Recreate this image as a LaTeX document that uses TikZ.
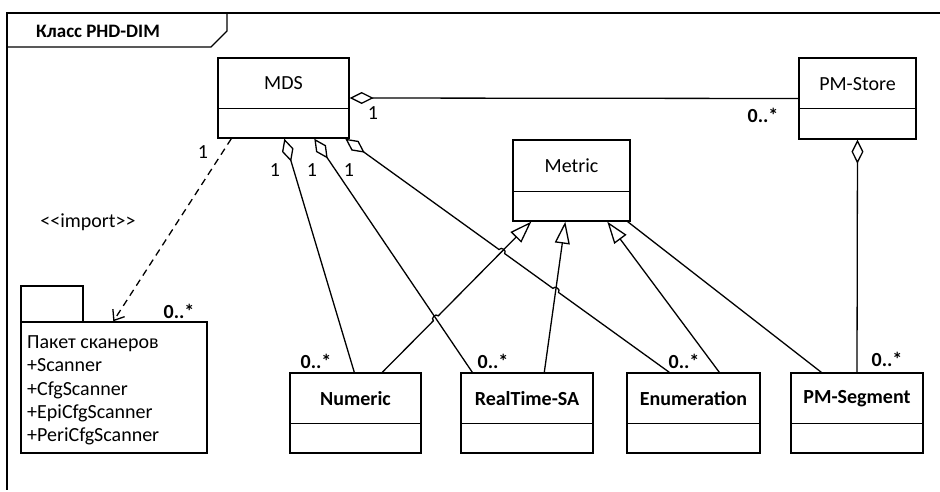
\documentclass[tikz,border=0pt]{standalone}
\usepackage{fontspec}
\setmainfont{Carlito}
\usetikzlibrary{arrows.meta,calc}
\begin{document}
\begin{tikzpicture}[x=1pt,y=-1pt,
  box/.style={draw,line width=1.4pt,inner sep=0pt},
  lbl/.style={font=\fontsize{20}{24}\selectfont, inner sep=0pt},
  blbl/.style={font=\fontsize{20}{24}\selectfont\bfseries, inner sep=0pt},
  conn/.style={line width=1.3pt},
  agg/.style={conn, {Diamond[open,length=24pt,width=12pt,line width=1.3pt]}-},
  gen/.style={conn, -{Triangle[open,length=22pt,width=15pt,line width=1.3pt]}},
  dep/.style={conn, dash pattern=on 7pt off 5pt, -{Straight Barb[length=9pt,width=14pt]}},
  divl/.style={line width=1.4pt},
  hop/.style={bend left=90, looseness=1.4},
]
\useasboundingbox (0,0) rectangle (940,492);
% frame
\draw[line width=1.6pt] (940,13) -- (7,13) -- (7,490);
\draw[line width=1.4pt] (7,47) -- (211,47) -- (227,31) -- (227,13);
\node[blbl, anchor=west, font=\fontsize{19}{23}\selectfont\bfseries] (title) at (36,31) {Класс PHD-DIM};

% classes
\node[box, minimum width=131pt, minimum height=80pt] (mds) at (283.5,98) {};
\draw[divl] ([yshift=-51pt]mds.north west) -- ([yshift=-51pt]mds.north east);
\node[lbl] (mdsn) at (283.5,83.5) {MDS};

\node[box, minimum width=117pt, minimum height=81pt] (pmstore) at (857.5,98.5) {};
\draw[divl] ([yshift=-51pt]pmstore.north west) -- ([yshift=-51pt]pmstore.north east);
\node[lbl] (pmstoren) at (857.5,84) {PM-Store};

\node[box, minimum width=117pt, minimum height=81pt] (metric) at (571.5,180.5) {};
\draw[divl] ([yshift=-52pt]metric.north west) -- ([yshift=-52pt]metric.north east);
\node[lbl] (metricn) at (571.5,166) {Metric};

\node[box, minimum width=131pt, minimum height=80pt] (numeric) at (355.5,413) {};
\draw[divl] ([yshift=-51pt]numeric.north west) -- ([yshift=-51pt]numeric.north east);
\node[blbl] (numericn) at (355.5,398.5) {Numeric};

\node[box, minimum width=132pt, minimum height=80pt] (rtsa) at (527,413) {};
\draw[divl] ([yshift=-51pt]rtsa.north west) -- ([yshift=-51pt]rtsa.north east);
\node[blbl] (rtsan) at (527,398.5) {RealTime-SA};

\node[box, minimum width=133pt, minimum height=80pt] (enum) at (693.5,413) {};
\draw[divl] ([yshift=-51pt]enum.north west) -- ([yshift=-51pt]enum.north east);
\node[blbl] (enumn) at (693.5,398.5) {Enumeration};

\node[box, minimum width=132pt, minimum height=80pt] (pmseg) at (857,413) {};
\draw[divl] ([yshift=-51pt]pmseg.north west) -- ([yshift=-51pt]pmseg.north east);
\node[blbl] (pmsegn) at (857,398.5) {PM-Segment};

% package
\node[box, minimum width=62pt, minimum height=36pt] (pktab) at (52,304) {};
\node[box, minimum width=186pt, minimum height=131pt] (pkg) at (114,387.5) {};
\node[lbl, anchor=base west] (pk1) at (27,348.5) {Пакет сканеров};
\node[lbl, anchor=base west] (pk2) at (27,371.8) {+Scanner};
\node[lbl, anchor=base west] (pk3) at (27,395.1) {+CfgScanner};
\node[lbl, anchor=base west] (pk4) at (27,418.4) {+EpiCfgScanner};
\node[lbl, anchor=base west] (pk5) at (27,441.7) {+PeriCfgScanner};

% connector end points
\coordinate (mA) at ([xshift=67pt]mds.south west);
\coordinate (mB) at ([xshift=97pt]mds.south west);
\coordinate (mC) at ([xshift=128pt]mds.south west);
\coordinate (nA) at ([xshift=65pt]numeric.north west);
\coordinate (rB) at ([xshift=12pt]rtsa.north west);
\coordinate (eC) at ([xshift=43pt]enum.north west);
\coordinate (nG) at ([xshift=93pt]numeric.north west);
\coordinate (tG) at ([xshift=19pt]metric.south west);
\coordinate (rG) at ([xshift=84pt]rtsa.north west);
\coordinate (tR) at ([xshift=53pt]metric.south west);
\coordinate (eG) at ([xshift=93pt]enum.north west);
\coordinate (tE) at ([xshift=95pt]metric.south west);
\coordinate (X1) at (intersection of nG--tG and mB--rB);
\coordinate (X2) at (intersection of nG--tG and mC--eC);
\coordinate (X3) at (intersection of rG--tR and mC--eC);

% connectors
\draw[agg] (mds.east) -- (pmstore.west);
\draw[agg] (pmstore.south) -- (pmseg.north);
\draw[agg] (mA) -- (nA);
\draw[agg] (mB) -- (rB);
\draw[agg] (mC) -- ($(X2)!3.5pt!(mC)$) to[hop] ($(X2)!3.5pt!(eC)$)
  -- ($(X3)!3.5pt!(mC)$) to[hop] ($(X3)!3.5pt!(eC)$) -- (eC);
\draw[gen] (nG) -- ($(X1)!3.5pt!(nG)$) to[hop] ($(X1)!3.5pt!(tG)$) -- (tG);
\draw[gen] (rG) -- (tR);
\draw[gen] (eG) -- (tE);
\draw[conn] ([xshift=31pt]pmseg.north west) -- ([xshift=-3pt]metric.south east);
\draw[dep] ([xshift=14pt]mds.south west) -- ([xshift=93pt]pkg.north west);

% labels
\node[lbl] (ldep) at (203,152) {1};
\node[lbl] (limp) at (88,222) {\textless\kern0pt\textless import\textgreater\kern0pt\textgreater};
\node[blbl] (lpk) at (179,311) {0..*};
\node[lbl] (la) at (373,113) {1};
\node[blbl] (lb) at (763,115) {0..*};
\node[lbl] (lc) at (275,170) {1};
\node[lbl] (ld) at (312,170) {1};
\node[lbl] (le) at (349,170) {1};
\node[blbl] (lf) at (316,361) {0..*};
\node[blbl] (lg) at (493,361) {0..*};
\node[blbl] (lh) at (684,361) {0..*};
\node[blbl] (li) at (887,359) {0..*};
\end{tikzpicture}
\end{document}
